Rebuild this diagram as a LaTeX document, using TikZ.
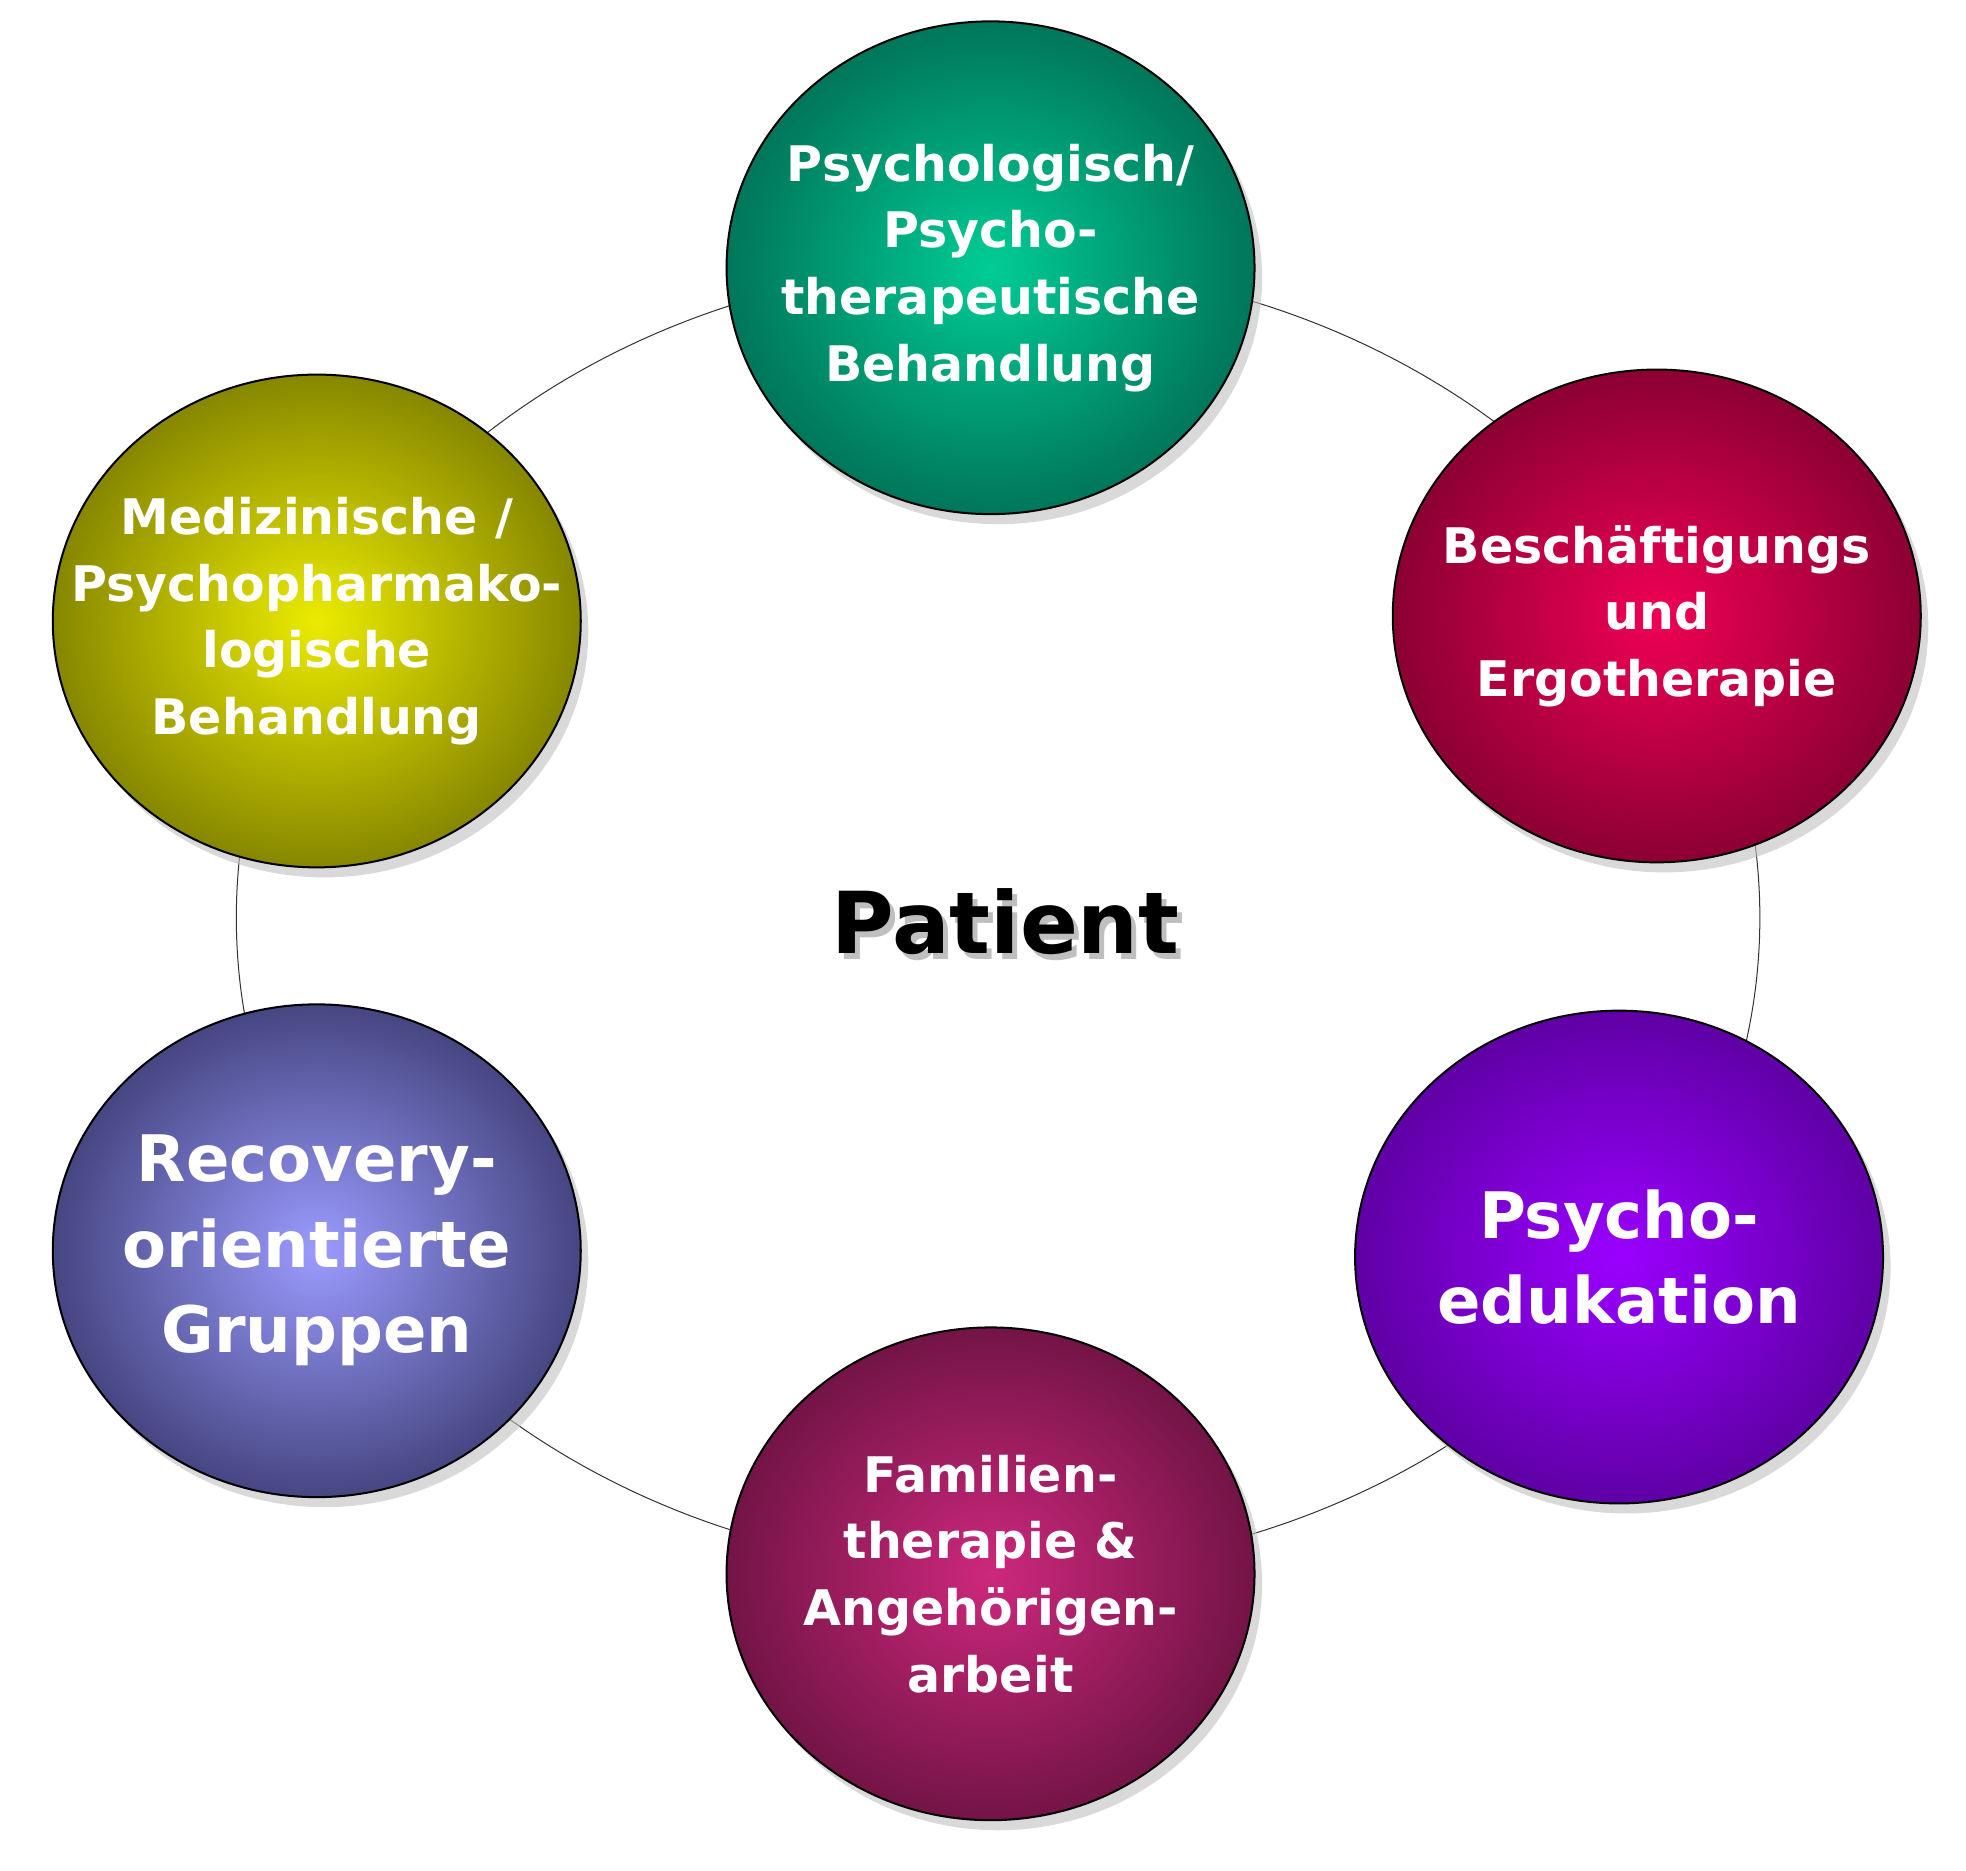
\documentclass[tikz,border=0pt]{standalone}
\usepackage{fontspec}
\setmainfont{DejaVu Sans}
\usetikzlibrary{shadows,shapes.geometric}
\begin{document}
\begin{tikzpicture}[x=1pt,y=-1pt,
 ball/.style={ellipse,minimum width=420pt,minimum height=392pt,draw=black,line width=1.6pt,
   drop shadow={shadow xshift=6pt,shadow yshift=-8pt,fill=black!25,opacity=0.6}},
 lbl/.style={text=white,font=\bfseries\fontsize{39}{53}\selectfont,align=center},
 big/.style={text=white,font=\bfseries\fontsize{51}{68}\selectfont,align=center}]
\useasboundingbox (0,0) rectangle (1564,1488);
\definecolor{gA}{RGB}{0,205,150}\definecolor{gB}{RGB}{0,118,90}
\definecolor{rA}{RGB}{240,0,85}\definecolor{rB}{RGB}{140,0,50}
\definecolor{yA}{RGB}{235,235,0}\definecolor{yB}{RGB}{135,135,0}
\definecolor{vA}{RGB}{155,0,255}\definecolor{vB}{RGB}{95,0,165}
\definecolor{mA}{RGB}{205,40,125}\definecolor{mB}{RGB}{115,20,70}
\definecolor{bA}{RGB}{155,155,255}\definecolor{bB}{RGB}{70,70,130}
\node (ring) [ellipse,draw=black!80,line width=0.8pt,minimum width=1212pt,minimum height=1040pt] at (794,730) {};
\node (psy) [ball,inner color=gA,outer color=gB] at (788,213) {};
\node[lbl] at (psy) {Psychologisch/\\Psycho-\\therapeutische\\Behandlung};
\node (beh) [ball,inner color=rA,outer color=rB] at (1318,490) {};
\node[lbl] at (beh) {Beschäftigungs\\und\\Ergotherapie};
\node (med) [ball,inner color=yA,outer color=yB] at (252,494) {};
\node[lbl] at (med) {Medizinische /\\Psychopharmako-\\logische\\Behandlung};
\node (edu) [ball,inner color=vA,outer color=vB] at (1288,1000) {};
\node[big] at (edu) {Psycho-\\edukation};
\node (fam) [ball,inner color=mA,outer color=mB] at (788,1252) {};
\node[lbl] at (fam) {Familien-\\therapie \&\\Angehörigen-\\arbeit};
\node (rec) [ball,inner color=bA,outer color=bB] at (252,995) {};
\node[big] at (rec) {Recovery-\\orientierte\\Gruppen};
\node[text=black!25,font=\bfseries\fontsize{68}{76}\selectfont] at (804,738) {Patient};
\node (pat) [font=\bfseries\fontsize{68}{76}\selectfont] at (800,733) {Patient};
\end{tikzpicture}
\end{document}
